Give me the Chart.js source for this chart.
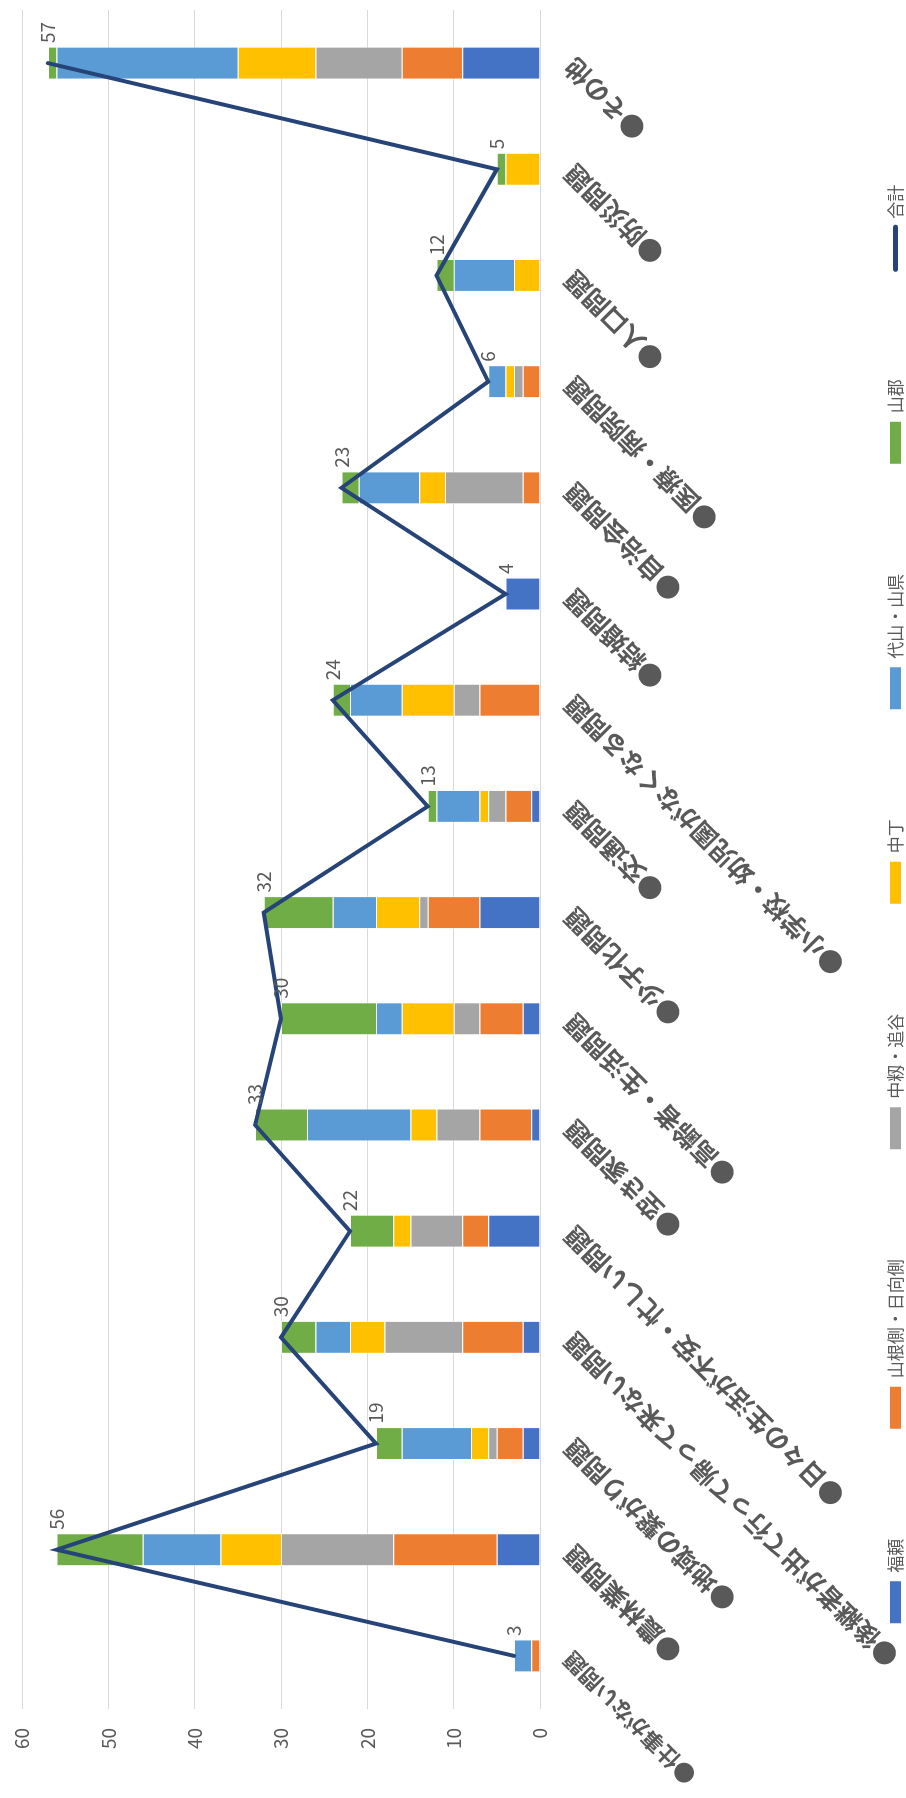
<!DOCTYPE html>
<html>
<head>
<meta charset="utf-8">
<script src="https://cdn.jsdelivr.net/npm/chart.js@4.4.1/dist/chart.umd.min.js"></script>
<style>
  html, body { margin: 0; padding: 0; background: #ffffff; overflow: hidden; }
  body { width: 906px; height: 1798px; position: relative; }
  #wrap {
    position: absolute; left: 0; top: 0;
    width: 1798px; height: 906px;
    transform-origin: 0 0;
    transform: translate(0px, 1798px) rotate(-90deg);
  }
  canvas { display: block; }
</style>
</head>
<body>
<div id="wrap"><canvas id="c" width="1798" height="906"></canvas></div>
<script>
const categories = [
  '●仕事がない問題',
  '●農林業問題',
  '●地域の繋がり問題',
  '●後継者が出て行って帰って来ない問題',
  '●日々の生活が不安・忙しい問題',
  '●空き家問題',
  '●高齢者・生活問題',
  '●少子化問題',
  '●交通問題',
  '●小学校・幼児園がなくなる問題',
  '●結婚問題',
  '●自治会問題',
  '●医療・病院問題',
  '●人口問題',
  '●防災問題',
  '●その他'
];
const fukuyori       = [0, 5, 2, 2, 6, 1, 2, 7, 1, 0, 4, 0, 0, 0, 0, 9];
const yamaneHinata   = [1, 12, 3, 7, 3, 6, 5, 6, 3, 7, 0, 2, 2, 0, 0, 7];
const nakamomiOidani = [0, 13, 1, 9, 6, 5, 3, 1, 2, 3, 0, 9, 1, 0, 0, 10];
const nakacho        = [0, 7, 2, 4, 2, 3, 6, 5, 1, 6, 0, 3, 1, 3, 4, 9];
const daiyamaYamagata= [2, 9, 8, 4, 0, 12, 3, 5, 5, 6, 0, 7, 2, 7, 0, 21];
const yamagori       = [0, 10, 3, 4, 5, 6, 11, 8, 1, 2, 0, 2, 0, 2, 1, 1];
const totals         = [3, 56, 19, 30, 22, 33, 30, 32, 13, 24, 4, 23, 6, 12, 5, 57];
const seriesNames = ['福頼', '山根側・日向側', '中籾・追谷', '中丁', '代山・山県', '山郡', '合計'];
const valueTicks = [0, 10, 20, 30, 40, 50, 60];

const FONT = "'Noto Sans CJK JP', 'Noto Sans', sans-serif";
const barColors = ['#4472C4', '#ED7D31', '#A5A5A5', '#FFC000', '#5B9BD5', '#70AD47'];
const barSeries = [fukuyori, yamaneHinata, nakamomiOidani, nakacho, daiyamaYamagata, yamagori];

const datasets = barSeries.map((vals, i) => ({
  type: 'bar',
  label: seriesNames[i],
  data: vals,
  backgroundColor: barColors[i],
  borderColor: 'rgba(255,255,255,0.6)',
  borderWidth: 1,
  stack: 'bars',
  order: 1,
  barPercentage: 0.31,
  categoryPercentage: 1.0
}));
datasets.push({
  type: 'line',
  label: seriesNames[6],
  data: totals,
  borderColor: '#264478',
  backgroundColor: '#264478',
  borderWidth: 4,
  borderCapStyle: 'round',
  pointRadius: 0,
  tension: 0,
  fill: false,
  stack: 'total',
  order: 0
});

const lineLabels = {
  id: 'lineLabels',
  afterDatasetsDraw(chart) {
    const ctx = chart.ctx;
    const idx = chart.data.datasets.length - 1;
    const meta = chart.getDatasetMeta(idx);
    ctx.save();
    ctx.font = "19px " + FONT;
    ctx.fillStyle = '#595959';
    ctx.textAlign = 'left';
    ctx.textBaseline = 'middle';
    meta.data.forEach((pt, i) => {
      ctx.fillText(String(chart.data.datasets[idx].data[i]), pt.x + 20, pt.y);
    });
    ctx.restore();
  }
};

// pin the plot area to the reference frame (value axis 22..540, category axis 89..1788)
const layoutTweak = {
  id: 'layoutTweak',
  afterLayout(chart) {
    const TOP = 22, BOTTOM = 540;
    const ca = chart.chartArea;
    const ys = chart.scales.y, xs = chart.scales.x;
    ca.top = TOP; ca.bottom = BOTTOM; ca.height = BOTTOM - TOP;
    if (ys) {
      ys.top = TOP; ys.bottom = BOTTOM; ys.height = BOTTOM - TOP;
      ys.configure();
    }
    if (xs) {
      xs.top = BOTTOM; xs.bottom = chart.height; xs.height = chart.height - BOTTOM;
      xs._labelItems = null;
    }
    if (chart.legend) {
      chart.legend.top += 8;
      chart.legend.bottom += 8;
    }
  }
};

new Chart(document.getElementById('c'), {
  type: 'bar',
  data: { labels: categories, datasets: datasets },
  plugins: [lineLabels, layoutTweak],
  options: {
    responsive: false,
    animation: false,
    devicePixelRatio: 1,
    layout: { padding: { top: 22, right: 10, left: 0, bottom: 0 } },
    plugins: {
      tooltip: { enabled: false },
      legend: {
        position: 'bottom',
        labels: {
          usePointStyle: true,
          pointStyleWidth: 42,
          boxWidth: 42,
          boxHeight: 11,
          padding: 110,
          color: '#595959',
          font: { size: 17, family: FONT },
          generateLabels(chart) {
            const items = Chart.defaults.plugins.legend.labels.generateLabels(chart);
            items.sort((a, b) => a.datasetIndex - b.datasetIndex);
            items.forEach(it => {
              const ds = chart.data.datasets[it.datasetIndex];
              if (ds.type === 'line') {
                it.pointStyle = 'line';
                it.lineWidth = 5;
                it.lineCap = 'round';
                it.strokeStyle = '#264478';
              } else {
                it.pointStyle = 'rect';
                it.lineWidth = 0;
              }
            });
            return items;
          }
        }
      }
    },
    scales: {
      x: {
        stacked: true,
        grid: { display: false },
        border: { display: false },
        ticks: {
          autoSkip: false,
          minRotation: 45,
          maxRotation: 45,
          padding: 10,
          labelOffset: 0,
          color: '#595959',
          font: (c) => ({ size: c.index === 0 ? 22 : 25.5, weight: 'bold', family: FONT })
        },
        afterFit(scale) { scale.height = 229; }
      },
      y: {
        stacked: true,
        min: valueTicks[0],
        max: valueTicks[valueTicks.length - 1],
        grid: { color: '#d9d9d9', lineWidth: 1, drawTicks: false },
        border: { display: false },
        ticks: {
          stepSize: 10,
          padding: 19,
          color: '#595959',
          font: { size: 19, family: FONT }
        },
        afterFit(scale) { scale.width = 89; }
      }
    }
  }
});
</script>
</body>
</html>
